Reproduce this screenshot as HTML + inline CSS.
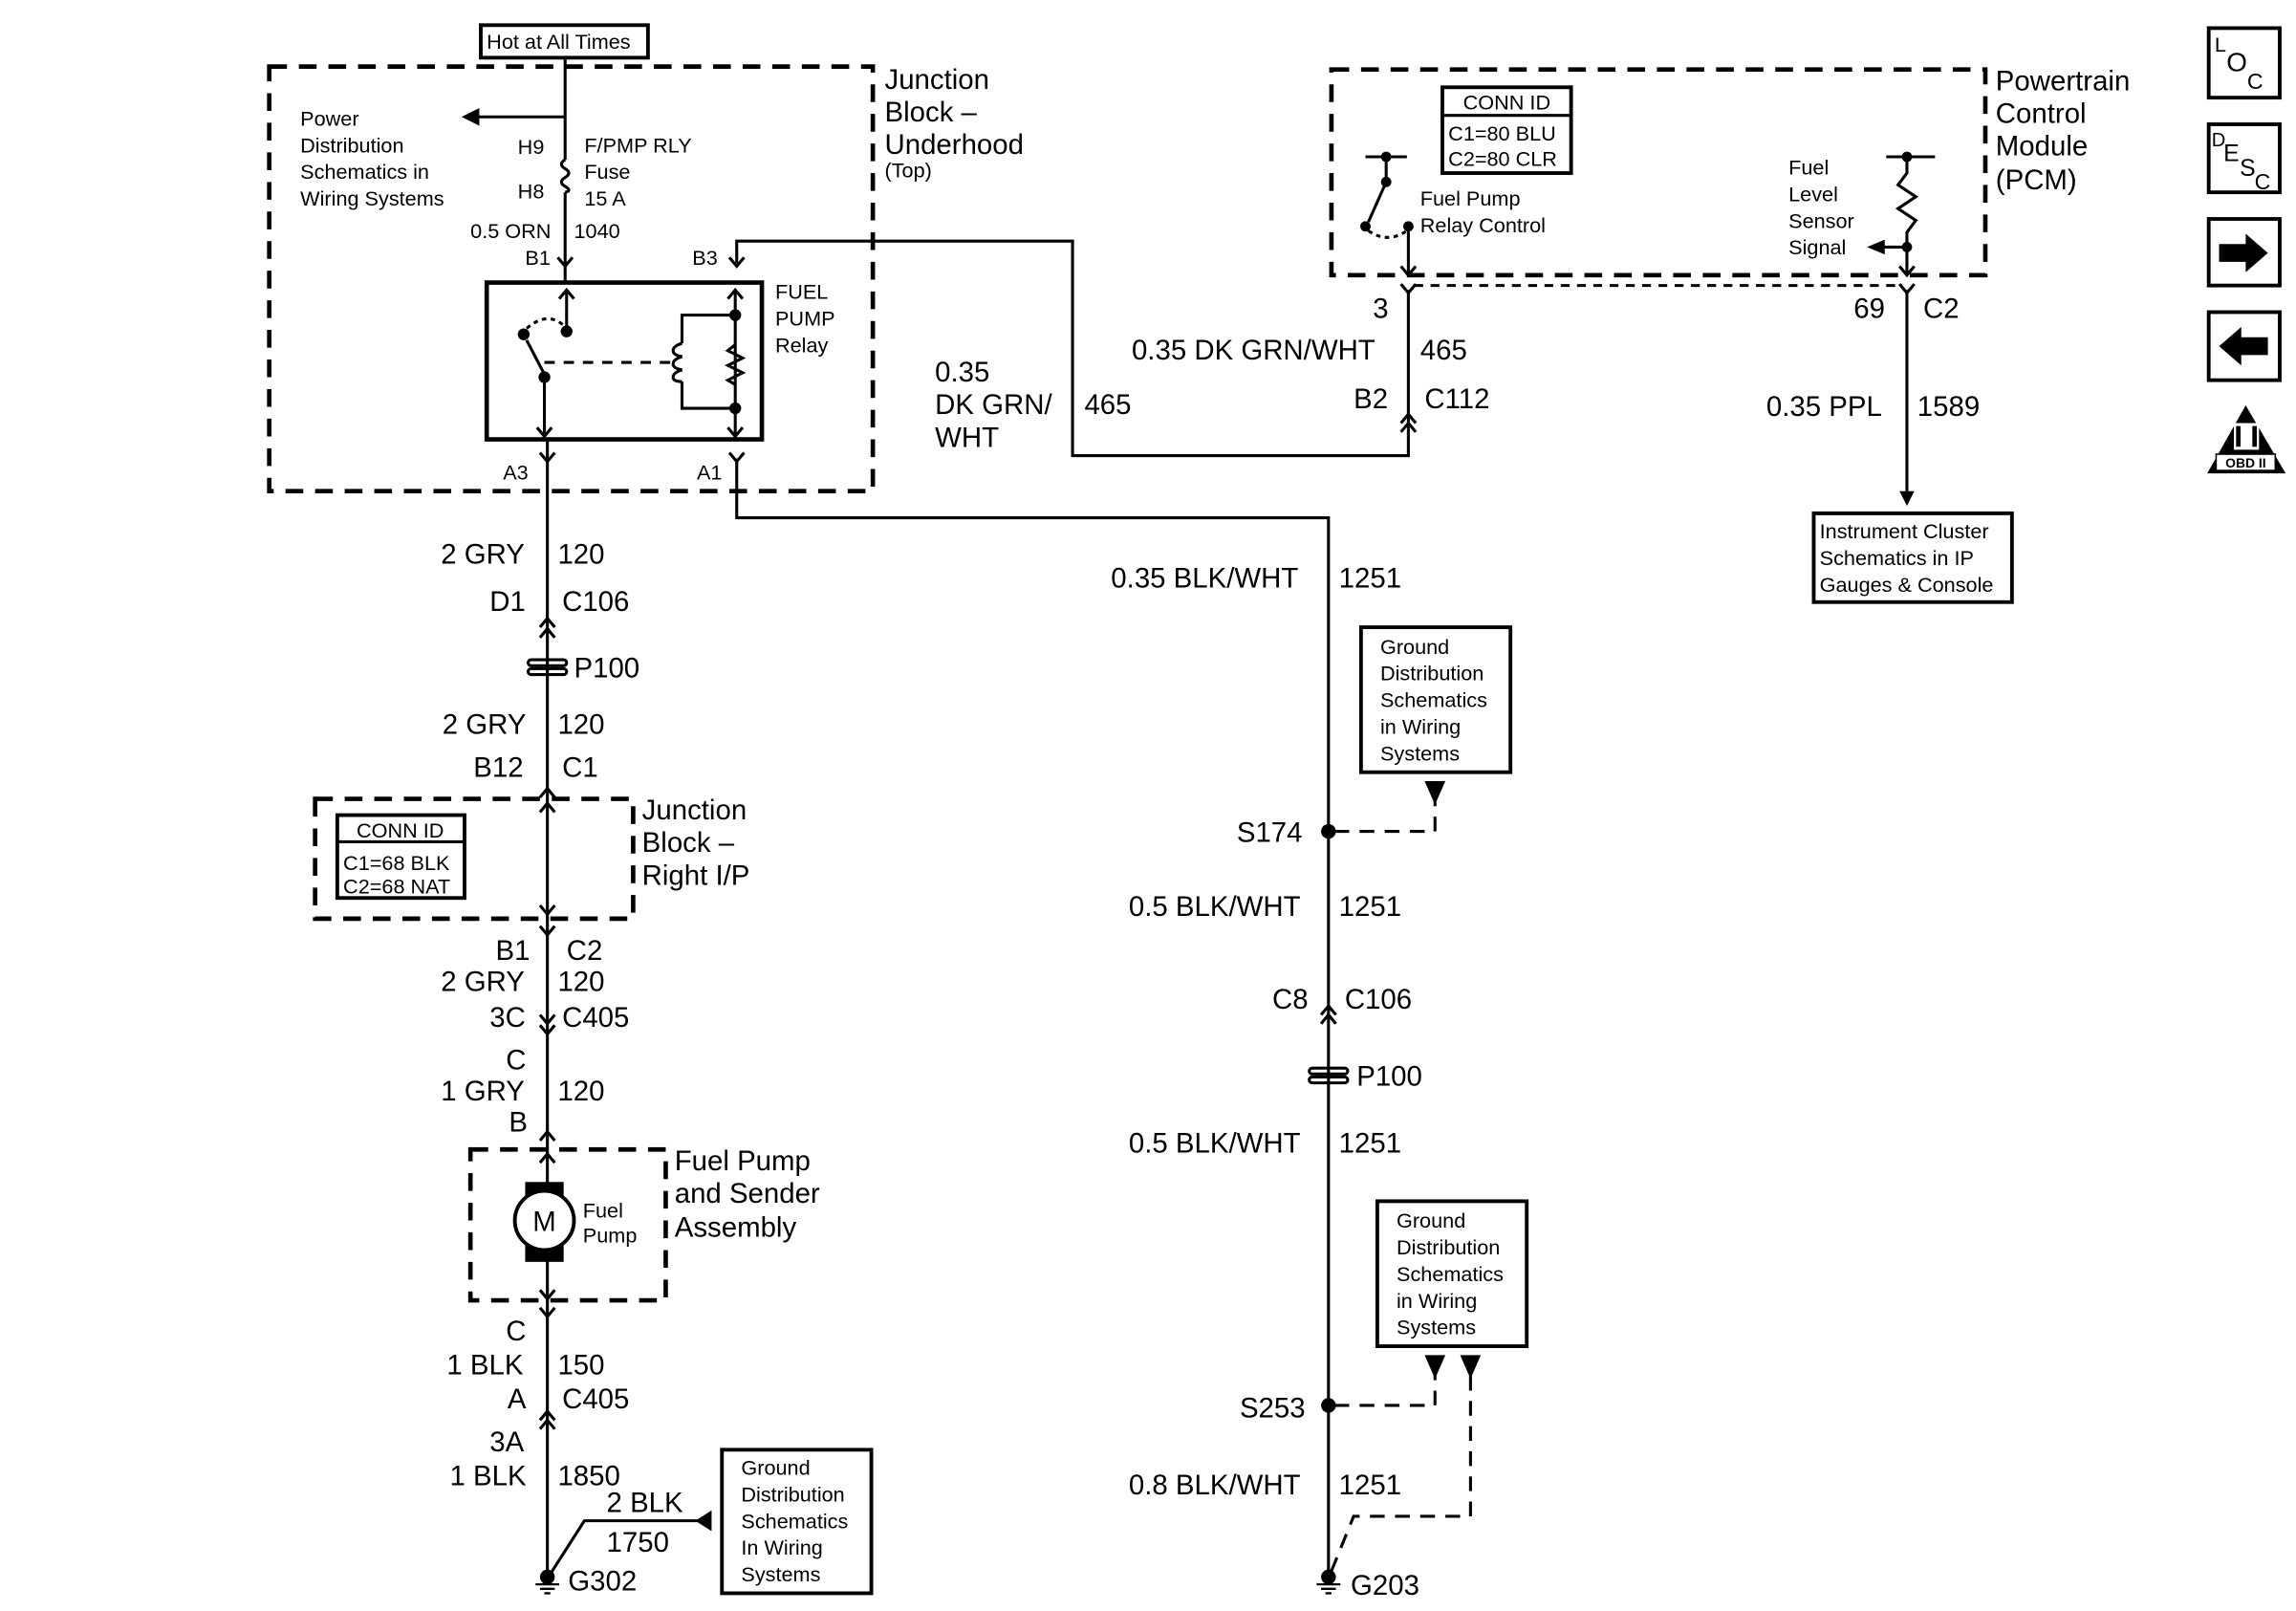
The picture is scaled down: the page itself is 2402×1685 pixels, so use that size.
<!DOCTYPE html>
<html><head><meta charset="utf-8"><style>
html,body{margin:0;padding:0;background:#fff;}
svg{display:block;}
text{font-family:"Liberation Sans",Arial,sans-serif;fill:#000;}
.s{font-size:14px;}
.m{font-size:19px;}
.l{font-size:20px;}
</style></head><body>
<svg width="2402" height="1685" viewBox="0 0 1552 1089" preserveAspectRatio="none" xmlns="http://www.w3.org/2000/svg">
<defs>
<g id="cdn"><path d="M-5,-4 L0,2 L5,-4" fill="none" stroke="#000" stroke-width="2"/></g>
<g id="cup"><path d="M-5,4 L0,-2 L5,4" fill="none" stroke="#000" stroke-width="2"/></g>
<g id="gnd"><circle cx="0" cy="0" r="5" fill="#000"/><path d="M-8,5 H8 M-5,8 H5 M-2,11 H2" stroke="#000" stroke-width="1.5"/></g>
<g id="p100"><rect x="-13" y="-5" width="26" height="4" rx="2" fill="none" stroke="#000" stroke-width="2"/><rect x="-13" y="1" width="26" height="4" rx="2" fill="none" stroke="#000" stroke-width="2"/></g>
</defs>
<g fill="none" stroke="#000" stroke-width="2">
<rect x="325" y="17" width="113" height="22" stroke-width="2.5"/>
<rect x="182" y="45" width="408" height="287" stroke-dasharray="12,8" stroke-width="3"/>
<path d="M382,39 V108 M382,130 V190"/>
<path d="M382,108 q-5,3 0,6 q5,3 0,6 q-5,3 0,6 q5,3 0,4"/>
<path d="M382,79 H322"/>
<rect x="329" y="191" width="186" height="106" stroke-width="3"/>
<path d="M383,196 V222"/><path d="M378,202 L383,196 L388,202"/>
<circle cx="383" cy="224" r="3" fill="#000"/>
<circle cx="354" cy="226" r="3" fill="#000"/>
<path d="M356,222 q14,-12 25,-2" stroke-dasharray="3,3"/>
<path d="M368,253 L356,230"/>
<circle cx="368" cy="255" r="3" fill="#000"/>
<path d="M368,255 V295"/><path d="M363,289 L368,295 L373,289"/>
<path d="M368,245 H455" stroke-dasharray="7,6"/>
<path d="M497,196 V295"/><path d="M492,202 L497,196 L502,202"/><path d="M492,289 L497,295 L502,289"/>
<circle cx="497" cy="213" r="3" fill="#000"/><circle cx="497" cy="276" r="3" fill="#000"/>
<path d="M497,213 H461 V232 M461,258 V276 H497"/>
<path d="M461,232 q-6,2 -6,5 t6,4 q-6,2 -6,5 t6,4 q-6,2 -6,5 t6,3"/>
<path d="M497,233 l-5,4 l10,5 l-10,5 l10,5 l-10,5 l5,3"/>
<use href="#cdn" x="382" y="178"/><use href="#cdn" x="498" y="178"/>
<path d="M498,178 V163 H725 V308 H952 V290"/>
<use href="#cdn" x="370" y="310"/><use href="#cdn" x="498" y="310"/>
<path d="M370,297 V1068"/>
<path d="M498,310 V350 H898 V1068"/>
<rect x="900" y="47" width="442" height="139" stroke-dasharray="12,8" stroke-width="3"/>
<rect x="975" y="59" width="87" height="58" stroke-width="2.5"/><path d="M975,78 H1062"/>
<path d="M923,106 H951 M937,106 V123 L925,150"/><circle cx="937" cy="106" r="2.5" fill="#000"/><circle cx="937" cy="123" r="2.5" fill="#000"/>
<circle cx="923" cy="153" r="2.5" fill="#000"/><circle cx="952" cy="153" r="2.5" fill="#000"/>
<path d="M925,156 q13,9 26,0" stroke-dasharray="3,3"/>
<path d="M952,153 V186"/><path d="M947,180 L952,186 L957,180"/>
<path d="M1275,106 H1308 M1289,106 V117 l-6,8 l12,8 l-12,8 l12,8 l-6,8 V186"/><circle cx="1289" cy="106" r="2.5" fill="#000"/><circle cx="1289" cy="167" r="2.5" fill="#000"/>
<path d="M1289,167 H1272"/><path d="M1284,180 L1289,186 L1294,180"/>
<path d="M956,193 H1286" stroke-dasharray="6,5"/>
<use href="#cdn" x="952" y="196"/><path d="M952,196 V290"/><use href="#cup" x="952" y="282"/><use href="#cup" x="952" y="288"/>
<use href="#cdn" x="1289" y="196"/><path d="M1289,196 V338"/>
<rect x="1226" y="347" width="134" height="60" stroke-width="2.5"/>
<rect x="920" y="424" width="101" height="98" stroke-width="2.5"/>
<rect x="931" y="812" width="101" height="98" stroke-width="2.5"/>
<rect x="488" y="980" width="101" height="97" stroke-width="2.5"/>
<path d="M902,562 H970 V540" stroke-dasharray="10,7"/>
<path d="M902,950 H970 V930" stroke-dasharray="10,7"/>
<path d="M994,930 V1025 H915 L900,1062" stroke-dasharray="10,7"/>
<use href="#cup" x="898" y="682"/><use href="#cup" x="898" y="688"/>
<use href="#cup" x="370" y="420"/><use href="#cup" x="370" y="427"/>
<use href="#cup" x="370" y="535"/>
<use href="#cup" x="370" y="545"/><use href="#cdn" x="370" y="616"/>
<use href="#cdn" x="370" y="630"/>
<use href="#cdn" x="370" y="690"/><use href="#cdn" x="370" y="697"/>
<use href="#cup" x="370" y="767"/>
<use href="#cup" x="370" y="782"/><use href="#cdn" x="370" y="876"/>
<use href="#cdn" x="370" y="888"/>
<use href="#cup" x="370" y="956"/><use href="#cup" x="370" y="962"/>
<rect x="213" y="540" width="215" height="81" stroke-dasharray="12,8" stroke-width="3"/>
<rect x="228" y="551" width="86" height="56" stroke-width="2.5"/><path d="M228,569 H314"/>
<rect x="318" y="777" width="132" height="102" stroke-dasharray="12,8" stroke-width="3"/>
<rect x="356" y="800" width="24" height="52" fill="#000"/>
<circle cx="368" cy="825" r="20" fill="#fff" stroke-width="2.5"/>
<path d="M372,1064 L395,1028 H472"/>
<rect x="1493" y="19" width="48" height="47" stroke-width="2.5"/>
<rect x="1493" y="84" width="48" height="46" stroke-width="2.5"/>
<rect x="1493" y="148" width="48" height="45" stroke-width="2.5"/>
<rect x="1493" y="211" width="48" height="46" stroke-width="2.5"/>
</g>
<g fill="#000" stroke="none">
<path d="M312,79 L324,73 L324,85 Z"/>
<path d="M1262,167 L1274,162 L1274,172 Z"/>
<path d="M1289,342 L1284,332 L1294,332 Z"/>
<path d="M963,528 L977,528 L970,544 Z"/>
<path d="M963,916 L977,916 L970,932 Z"/>
<path d="M987,916 L1001,916 L994,932 Z"/>
<path d="M470,1028 L481,1021 L481,1035 Z"/>
<circle cx="898" cy="562" r="5"/><circle cx="898" cy="950" r="5"/>
<path d="M1500,165 H1518 V158 L1533,171 L1518,184 V177 H1500 Z"/>
<path d="M1533,228 H1515 V221 L1500,234 L1515,247 V240 H1533 Z"/>
<path d="M1518,274 L1545,320 L1492,320 Z"/>
</g>
<rect x="1510" y="286" width="17" height="18" fill="#fff"/>
<path d="M1513,288 V302 M1524,288 V302" stroke="#000" stroke-width="3"/>
<rect x="1498" y="307" width="40" height="11" fill="#fff" stroke="#000"/>
<text x="1518" y="316" font-size="9" text-anchor="middle" font-weight="bold">OBD II</text>
<use href="#p100" x="370" y="451"/>
<use href="#p100" x="898" y="727"/>
<use href="#gnd" x="370" y="1066"/>
<use href="#gnd" x="898" y="1066"/>
<text x="329" y="33" class="s">Hot at All Times</text>
<text x="598" y="60" class="m">Junction</text><text x="598" y="82" class="m">Block –</text><text x="598" y="104" class="m">Underhood</text><text x="598" y="120" class="s">(Top)</text>
<text x="203" y="85" class="s">Power</text><text x="203" y="103" class="s">Distribution</text><text x="203" y="121" class="s">Schematics in</text><text x="203" y="139" class="s">Wiring Systems</text>
<text x="350" y="104" class="s">H9</text><text x="350" y="134" class="s">H8</text>
<text x="395" y="103" class="s">F/PMP RLY</text><text x="395" y="121" class="s">Fuse</text><text x="395" y="139" class="s">15 A</text>
<text x="318" y="161" class="s">0.5 ORN</text><text x="388" y="161" class="s">1040</text>
<text x="355" y="179" class="s">B1</text><text x="468" y="179" class="s">B3</text>
<text x="524" y="202" class="s">FUEL</text><text x="524" y="220" class="s">PUMP</text><text x="524" y="238" class="s">Relay</text>
<text x="340" y="324" class="s">A3</text><text x="471" y="324" class="s">A1</text>
<text x="632" y="258" class="m">0.35</text><text x="632" y="280" class="m">DK GRN/</text><text x="632" y="302" class="m">WHT</text><text x="733" y="280" class="m">465</text>
<text x="1349" y="61" class="m">Powertrain</text><text x="1349" y="83" class="m">Control</text><text x="1349" y="105" class="m">Module</text><text x="1349" y="128" class="m">(PCM)</text>
<text x="989" y="74" class="s">CONN ID</text><text x="979" y="95" class="s">C1=80 BLU</text><text x="979" y="112" class="s">C2=80 CLR</text>
<text x="960" y="139" class="s">Fuel Pump</text><text x="960" y="157" class="s">Relay Control</text>
<text x="1209" y="118" class="s">Fuel</text><text x="1209" y="136" class="s">Level</text><text x="1209" y="154" class="s">Sensor</text><text x="1209" y="172" class="s">Signal</text>
<text x="928" y="215" class="m">3</text><text x="1253" y="215" class="m">69</text><text x="1300" y="215" class="m">C2</text>
<text x="765" y="243" class="m">0.35 DK GRN/WHT</text><text x="960" y="243" class="m">465</text>
<text x="915" y="276" class="m">B2</text><text x="963" y="276" class="m">C112</text>
<text x="1194" y="281" class="m">0.35 PPL</text><text x="1296" y="281" class="m">1589</text>
<text x="1230" y="364" class="s">Instrument Cluster</text><text x="1230" y="382" class="s">Schematics in IP</text><text x="1230" y="400" class="s">Gauges &amp; Console</text>
<text x="751" y="397" class="m">0.35 BLK/WHT</text><text x="905" y="397" class="m">1251</text>
<text x="933" y="442" class="s">Ground</text><text x="933" y="460" class="s">Distribution</text><text x="933" y="478" class="s">Schematics</text><text x="933" y="496" class="s">in Wiring</text><text x="933" y="514" class="s">Systems</text>
<text x="836" y="569" class="m">S174</text>
<text x="763" y="619" class="m">0.5 BLK/WHT</text><text x="905" y="619" class="m">1251</text>
<text x="860" y="682" class="m">C8</text><text x="909" y="682" class="m">C106</text>
<text x="917" y="734" class="m">P100</text>
<text x="763" y="779" class="m">0.5 BLK/WHT</text><text x="905" y="779" class="m">1251</text>
<text x="944" y="830" class="s">Ground</text><text x="944" y="848" class="s">Distribution</text><text x="944" y="866" class="s">Schematics</text><text x="944" y="884" class="s">in Wiring</text><text x="944" y="902" class="s">Systems</text>
<text x="838" y="958" class="m">S253</text>
<text x="763" y="1010" class="m">0.8 BLK/WHT</text><text x="905" y="1010" class="m">1251</text>
<text x="913" y="1078" class="m">G203</text>
<text x="298" y="381" class="m">2 GRY</text><text x="377" y="381" class="m">120</text>
<text x="331" y="413" class="m">D1</text><text x="380" y="413" class="m">C106</text>
<text x="388" y="458" class="m">P100</text>
<text x="299" y="496" class="m">2 GRY</text><text x="377" y="496" class="m">120</text>
<text x="320" y="525" class="m">B12</text><text x="380" y="525" class="m">C1</text>
<text x="434" y="554" class="m">Junction</text><text x="434" y="576" class="m">Block –</text><text x="434" y="598" class="m">Right I/P</text>
<text x="241" y="566" class="s">CONN ID</text><text x="232" y="588" class="s">C1=68 BLK</text><text x="232" y="604" class="s">C2=68 NAT</text>
<text x="335" y="649" class="m">B1</text><text x="383" y="649" class="m">C2</text>
<text x="298" y="670" class="m">2 GRY</text><text x="377" y="670" class="m">120</text>
<text x="331" y="694" class="m">3C</text><text x="380" y="694" class="m">C405</text>
<text x="342" y="723" class="m">C</text>
<text x="298" y="744" class="m">1 GRY</text><text x="377" y="744" class="m">120</text>
<text x="344" y="765" class="m">B</text>
<text x="456" y="791" class="m">Fuel Pump</text><text x="456" y="813" class="m">and Sender</text><text x="456" y="836" class="m">Assembly</text>
<text x="368" y="832" class="m" text-anchor="middle">M</text>
<text x="394" y="823" class="s">Fuel</text><text x="394" y="840" class="s">Pump</text>
<text x="342" y="906" class="m">C</text>
<text x="302" y="929" class="m">1 BLK</text><text x="377" y="929" class="m">150</text>
<text x="343" y="952" class="m">A</text><text x="380" y="952" class="m">C405</text>
<text x="331" y="981" class="m">3A</text>
<text x="304" y="1004" class="m">1 BLK</text><text x="377" y="1004" class="m">1850</text>
<text x="410" y="1022" class="m">2 BLK</text><text x="410" y="1049" class="m">1750</text>
<text x="384" y="1075" class="m">G302</text>
<text x="501" y="997" class="s">Ground</text><text x="501" y="1015" class="s">Distribution</text><text x="501" y="1033" class="s">Schematics</text><text x="501" y="1051" class="s">In Wiring</text><text x="501" y="1069" class="s">Systems</text>
<text x="1497" y="35" font-size="14">L</text><text x="1505" y="48" font-size="18">O</text><text x="1519" y="60" font-size="15">C</text>
<text x="1495" y="99" font-size="13">D</text><text x="1503" y="109" font-size="16">E</text><text x="1514" y="119" font-size="16">S</text><text x="1524" y="128" font-size="15">C</text>
</svg>
</body></html>
